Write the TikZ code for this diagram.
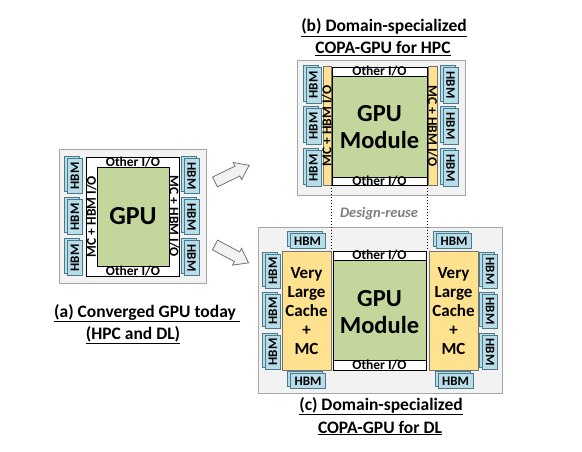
\documentclass[tikz,border=0pt]{standalone}
\usepackage{fontspec}
\setmainfont{Carlito}
\usetikzlibrary{fit}
\definecolor{hbmfill}{HTML}{B7DDE8}
\definecolor{hbmline}{HTML}{4A7A8C}
\definecolor{gpugreen}{HTML}{C3D69B}
\definecolor{cacheyellow}{HTML}{FFE28F}
\definecolor{boxgray}{HTML}{F2F2F2}
\definecolor{boxline}{HTML}{A6A6A6}
\definecolor{reusegray}{HTML}{7F7F7F}
\newcommand\hbmstack[4]{%
  \node[hbmback, minimum width=#4, minimum height=15, rotate=#3] (#1b) at ([xshift=-3pt,yshift=2pt]#2) {};
  \node[hbmfront, minimum width=#4, minimum height=15, rotate=#3] (#1) at (#2) {HBM};
}
\begin{document}
\begin{tikzpicture}[x=1pt,y=-1pt,
  package/.style={draw=boxline, fill=boxgray, line width=0.9pt, inner sep=0pt},
  hbmfront/.style={draw=hbmline, fill=hbmfill, line width=0.7pt, inner sep=0pt, font=\bfseries\fontsize{13}{13}\selectfont},
  hbmback/.style={draw=hbmline, fill=hbmfill, line width=0.7pt, inner sep=0pt},
  chip/.style={draw=black, fill=white, line width=0.8pt, inner sep=0pt},
  core/.style={draw=black, fill=gpugreen, line width=0.8pt, inner sep=0pt},
  cache/.style={draw=black!55, fill=cacheyellow, line width=0.7pt, inner sep=0pt},
  iotext/.style={inner sep=0pt, font=\bfseries\fontsize{13.5}{13.5}\selectfont},
  bigtext/.style={inner sep=0pt, align=center, font=\bfseries\fontsize{24.5}{27}\selectfont},
  cachetext/.style={inner sep=0pt, align=center, font=\bfseries\fontsize{17}{19}\selectfont},
  title/.style={inner sep=0pt, anchor=base, font=\bfseries\fontsize{17.5}{21}\selectfont},
  blockarrow/.style={draw=black!55, fill=boxgray, line width=0.8pt, line join=miter},
  reuse/.style={draw=black, line width=1pt, dotted}]
\useasboundingbox (0,0) rectangle (582,452);
\fill[white] (0,0) rectangle (582,452);

% ---------------- (a) converged GPU ----------------
\node[package, fit={(59,149) (206,283)}] (pkgA) {};
\node[chip, fit={(86,157) (179,276)}] (chipA) {};
\node[core, fit={(97,167) (169,266)}] (coreA) {};
\node[iotext] (ioAt) at (133,162) {Other I/O};
\node[iotext] (ioAb) at (133,271) {Other I/O};
\node[iotext, rotate=90] (mcAl) at (91.5,216.5) {MC + HBM I/O};
\node[iotext, rotate=-90] (mcAr) at (174,216.5) {MC + HBM I/O};
\node[bigtext, font=\bfseries\fontsize{26}{27}\selectfont] (gpuA) at (133,216) {GPU};
\hbmstack{hAl1}{75,176}{90}{35}
\hbmstack{hAl2}{75,217}{90}{35}
\hbmstack{hAl3}{75,258}{90}{35}
\hbmstack{hAr1}{191.5,176}{-90}{35}
\hbmstack{hAr2}{191.5,217}{-90}{35}
\hbmstack{hAr3}{191.5,258}{-90}{35}
\node[title] (tAa) at (147,317) {\underline{(a) Converged GPU today\ }};
\node[title] (tAb) at (133,339) {\underline{(HPC and DL)}};

% ---------------- block arrows ----------------
\draw[blockarrow, shift={(215,182)}, rotate=26]
  (0,-5.5) -- (25,-5.5) -- (25,-9.5) -- (38,0) -- (25,9.5) -- (25,5.5) -- (0,5.5) -- cycle;
\draw[blockarrow, shift={(215,245)}, rotate=-28]
  (0,-5.5) -- (25,-5.5) -- (25,-9.5) -- (38,0) -- (25,9.5) -- (25,5.5) -- (0,5.5) -- cycle;

% ---------------- (b) HPC ----------------
\node[title] (tBa) at (384,32) {\underline{(b) Domain-specialized}};
\node[title] (tBb) at (383,54) {\underline{COPA-GPU for HPC}};
\node[package, fit={(297,60) (465,195)}] (pkgB) {};
\node[cache, fit={(323,66) (331,185)}] (ylB) {};
\node[cache, fit={(428,66) (437,185)}] (yrB) {};
\node[chip, fit={(332,67) (427,185)}] (chipB) {};
\node[core, fit={(332,76) (427,177)}] (coreB) {};
\node[iotext] (ioBt) at (379.5,71.5) {Other I/O};
\node[iotext] (ioBb) at (379.5,181) {Other I/O};
\node[iotext, rotate=90] (mcBl) at (327,126) {MC + HBM I/O};
\node[iotext, rotate=-90] (mcBr) at (432.5,126) {MC + HBM I/O};
\node[bigtext] (gpuB) at (379.5,127) {GPU\\Module};
\hbmstack{hBl1}{313.5,85}{90}{36}
\hbmstack{hBl2}{313.5,126}{90}{36}
\hbmstack{hBl3}{313.5,168}{90}{36}
\hbmstack{hBr1}{450.5,85}{-90}{36}
\hbmstack{hBr2}{450.5,126}{-90}{36}
\hbmstack{hBr3}{450.5,168}{-90}{36}

% ---------------- (c) DL ----------------
\node[package, fit={(258,227) (502,393)}] (pkgC) {};
\node[cache, fit={(282,251) (331,370)}] (ylC) {};
\node[cache, fit={(429,251) (478,370)}] (yrC) {};
\node[chip, fit={(333,251) (426,370)}] (chipC) {};
\node[core, fit={(333,260) (426,360)}] (coreC) {};
\node[iotext] (ioCt) at (379.5,255.5) {Other I/O};
\node[iotext] (ioCb) at (379.5,365) {Other I/O};
\node[bigtext] (gpuC) at (379.5,312) {GPU\\Module};
\node[cachetext] (cacheL) at (306.5,311) {Very\\Large\\Cache\\+\\MC};
\node[cachetext] (cacheR) at (453.5,311) {Very\\Large\\Cache\\+\\MC};
\hbmstack{hCt1}{307.5,241}{0}{35}
\hbmstack{hCt2}{454,241}{0}{35}
\hbmstack{hCb1}{308,381}{0}{35}
\hbmstack{hCb2}{455.5,381}{0}{35}
\hbmstack{hCl1}{273,271}{90}{34}
\hbmstack{hCl2}{273,311}{90}{34}
\hbmstack{hCl3}{273,352}{90}{34}
\hbmstack{hCr1}{490,271}{-90}{34}
\hbmstack{hCr2}{490,311}{-90}{34}
\hbmstack{hCr3}{490,352}{-90}{34}
\node[title] (tCa) at (381,410) {\underline{(c) Domain-specialized}};
\node[title] (tCb) at (380,433) {\underline{COPA-GPU for DL}};

% ---------------- design reuse ----------------
\draw[reuse] (chipB.south west) -- (chipB.south west |- chipC.north);
\draw[reuse] (chipB.south east) -- (chipB.south east |- chipC.north);
\node[inner sep=0pt, text=reusegray, font=\bfseries\itshape\fontsize{14.5}{15}\selectfont] (reuse) at (379,214) {Design-reuse};
\end{tikzpicture}
\end{document}
